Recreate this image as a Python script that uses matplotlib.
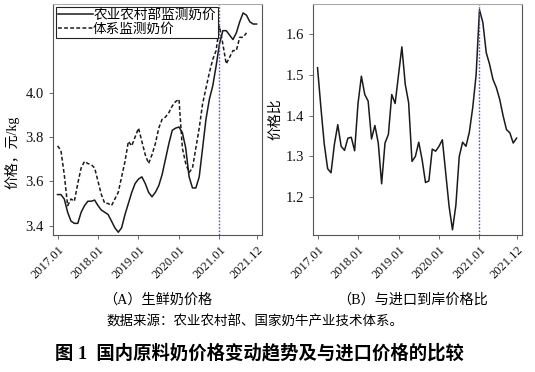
import numpy as np
import matplotlib
matplotlib.use("Agg")
import matplotlib.pyplot as plt

plt.rcParams['font.family'] = ['Liberation Serif', 'Noto Sans CJK SC', 'DejaVu Sans']
plt.rcParams['axes.unicode_minus'] = False

# monthly data, 2017.01 - 2021.12
tick_labels = ['2017.01', '2018.01', '2019.01', '2020.01', '2021.01', '2021.12']
tick_months = [0, 12, 24, 36, 48, 59]
mark_month = 48

moa_price = [3.54, 3.54, 3.52, 3.46, 3.42, 3.41, 3.41, 3.46, 3.49, 3.51, 3.51, 3.515,
             3.49, 3.47, 3.46, 3.45, 3.42, 3.39, 3.37, 3.39, 3.45, 3.50, 3.55, 3.59,
             3.61, 3.62, 3.59, 3.55, 3.53, 3.55, 3.58, 3.63, 3.70, 3.77, 3.83, 3.84,
             3.845, 3.82, 3.75, 3.62, 3.57, 3.57, 3.62, 3.75, 3.88, 3.97, 4.03, 4.12,
             4.22, 4.28, 4.28, 4.26, 4.24, 4.27, 4.32, 4.36, 4.35, 4.32, 4.31, 4.31]

sys_price = [3.76, 3.74, 3.63, 3.49, 3.52, 3.51, 3.59, 3.66, 3.69, 3.68, 3.675, 3.66,
             3.60, 3.54, 3.50, 3.50, 3.49, 3.52, 3.55, 3.62, 3.69, 3.78, 3.76, 3.80,
             3.84, 3.78, 3.72, 3.68, 3.72, 3.77, 3.84, 3.88, 3.89, 3.91, 3.94, 3.96,
             3.97, 3.75, 3.68, 3.64, 3.66, 3.75, 3.84, 3.95, 4.02, 4.09, 4.15, 4.19,
             4.30, 4.22, 4.13, 4.16, 4.19, 4.19, 4.25, 4.25, 4.27]

price_ratio = [1.518, 1.42, 1.33, 1.27, 1.26, 1.33, 1.378, 1.325, 1.315, 1.345, 1.347, 1.314,
               1.43, 1.497, 1.452, 1.436, 1.343, 1.376, 1.333, 1.233, 1.333, 1.354, 1.452, 1.43,
               1.50, 1.569, 1.477, 1.432, 1.288, 1.30, 1.335, 1.292, 1.236, 1.24, 1.318, 1.313,
               1.325, 1.341, 1.259, 1.177, 1.12, 1.18, 1.30, 1.335, 1.325, 1.36, 1.42, 1.50,
               1.66, 1.629, 1.555, 1.526, 1.489, 1.469, 1.44, 1.40, 1.366, 1.358, 1.333, 1.345]

fig = plt.figure(figsize=(5.35, 3.72), dpi=100)
ax1 = fig.add_axes([0.099, 0.368, 0.391, 0.621])
ax2 = fig.add_axes([0.585, 0.368, 0.391, 0.621])

line_c = '#1a1a1a'
ax1.plot(np.arange(len(moa_price)), moa_price, color=line_c, lw=1.1, ls='-', label='农业农村部监测奶价')
ax1.plot(np.arange(len(sys_price)), sys_price, color=line_c, lw=1.1, ls=(0, (2.5, 1.5)), label='体系监测奶价')
ax1.set_ylim(3.357, 4.40)
ax1.set_yticks([3.4, 3.6, 3.8, 4.0])
ax1.set_yticklabels(['3.4', '3.6', '3.8', '4.0'])
ax1.set_ylabel('价格，元/kg', fontsize=10)
ax1.yaxis.set_label_coords(-0.16, 0.36)
leg = ax1.legend(loc='upper left', fontsize=9.8, frameon=True, fancybox=False,
                 edgecolor='#222222', framealpha=1, borderpad=0.15, labelspacing=0.1,
                 handlelength=2.6, handletextpad=0.0, borderaxespad=0.2)
leg.get_frame().set_linewidth(0.8)

ax2.plot(np.arange(len(price_ratio)), price_ratio, color=line_c, lw=1.1)
ax2.set_ylim(1.107, 1.674)
ax2.set_yticks([1.2, 1.3, 1.4, 1.5, 1.6])
ax2.set_yticklabels(['1.2', '1.3', '1.4', '1.5', '1.6'])
ax2.set_ylabel('价格比', fontsize=10)
ax2.yaxis.set_label_coords(-0.145, 0.5)

for ax in (ax1, ax2):
    ax.set_xlim(-1.35, 60.65)
    ax.axvline(mark_month, color='#5050e0', lw=1.0, ls=(0, (1.2, 1.2)))
    ax.set_xticks(tick_months)
    ax.set_xticklabels(tick_labels, rotation=45, ha='right', rotation_mode='anchor', fontsize=9)
    ax.tick_params(axis='both', length=3, width=0.6, colors='#555555', labelcolor='#111111')
    ax.tick_params(axis='y', labelsize=10.5)
    for side in ('left', 'right', 'bottom'):
        ax.spines[side].set_color('#555555')
        ax.spines[side].set_linewidth(0.8)
    ax.spines['top'].set_color('#aaaaaa')
    ax.spines['top'].set_linewidth(0.8)

fig.text(0.294, 0.193, '（A）生鲜奶价格', ha='center', va='center', fontsize=10.2)
fig.text(0.772, 0.193, '（B）与进口到岸价格比', ha='center', va='center', fontsize=10.2)
fig.text(0.477, 0.134, '数据来源：农业农村部、国家奶牛产业技术体系。', ha='center', va='center', fontsize=9.7)
fig.text(0.484, 0.051, '图 1  国内原料奶价格变动趋势及与进口价格的比较', ha='center', va='center',
         fontsize=13.2, fontweight='bold')

fig.savefig('out.png', dpi=100)
